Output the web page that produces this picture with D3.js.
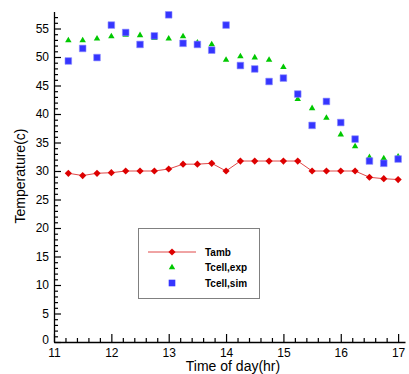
<!DOCTYPE html>
<html lang="en">
<head>
<meta charset="UTF-8">
<title>Temperature</title>
<script src="https://cdnjs.cloudflare.com/ajax/libs/d3/7.8.4/d3.min.js"></script>
<style>
  body { margin: 0; background: #fff; }
  svg text { font-family: "Liberation Sans", Arial, sans-serif; }
</style>
</head>
<body>
<div class="visHolder"></div>
<script>
// time of day (hr)
const hours = [11.25, 11.5, 11.75, 12, 12.25, 12.5, 12.75, 13, 13.25, 13.5, 13.75, 14,
               14.25, 14.5, 14.75, 15, 15.25, 15.5, 15.75, 16, 16.25, 16.5, 16.75, 17];
const tamb = [29.6, 29.2, 29.6, 29.7, 30.0, 30.0, 30.0, 30.35, 31.2, 31.2, 31.35, 30.0,
              31.75, 31.75, 31.75, 31.75, 31.75, 30.0, 30.0, 30.0, 30.0, 28.9, 28.65, 28.5];
const tcellExp = [52.9, 52.9, 53.2, 53.6, 53.9, 53.8, 53.3, 53.2, 53.6, 52.5, 52.2, 49.5,
                  50.1, 49.9, 49.5, 48.2, 42.6, 41.0, 39.3, 36.4, 34.3, 32.4, 32.2, 32.5];
const tcellSim = [49.3, 51.5, 49.9, 55.6, 54.3, 52.2, 53.7, 57.4, 52.4, 52.2, 51.2, 55.6,
                  48.5, 47.9, 45.7, 46.3, 43.5, 38.0, 42.2, 38.5, 35.6, 31.75, 31.35, 32.1];
const xTicks = [11, 12, 13, 14, 15, 16, 17];
const yTicks = [0, 5, 10, 15, 20, 25, 30, 35, 40, 45, 50, 55];

const w = 409, h = 374;
const svg = d3.select(".visHolder").append("svg")
  .attr("width", w).attr("height", h);

const xScale = d3.scaleLinear().domain([11, 17.12]).range([54, 405]);
const yScale = d3.scaleLinear().domain([0, 58]).range([342, 11.4]);

// minor ticks
const xMinor = d3.range(11, 17.01, 0.2).filter(v => Math.abs(v - Math.round(v)) > 0.01);
const yMinor = d3.range(0, 58, 1).filter(v => v % 5 !== 0);

svg.append("g")
  .attr("transform", "translate(0,342)")
  .call(d3.axisBottom(xScale).tickValues(xMinor).tickSize(-4).tickSizeOuter(0).tickFormat(""))
  .call(g => g.select(".domain").remove());
svg.append("g")
  .attr("transform", "translate(54,0)")
  .call(d3.axisLeft(yScale).tickValues(yMinor).tickSize(-4).tickSizeOuter(0).tickFormat(""))
  .call(g => g.select(".domain").remove());

const xAxis = svg.append("g")
  .attr("transform", "translate(0,342)")
  .call(d3.axisBottom(xScale).tickValues(xTicks).tickSize(-8).tickSizeOuter(0)
    .tickPadding(6).tickFormat(d3.format("d")));
const yAxis = svg.append("g")
  .attr("transform", "translate(54,0)")
  .call(d3.axisLeft(yScale).tickValues(yTicks).tickSize(-7).tickSizeOuter(0)
    .tickPadding(5).tickFormat(d3.format("d")));

[xAxis, yAxis].forEach(g => {
  g.selectAll("text").attr("font-size", 12).attr("fill", "#000")
    .style("font-family", "'Liberation Sans', Arial, sans-serif");
  g.selectAll("line").attr("stroke", "#000");
  g.select(".domain").attr("stroke", "#000").attr("stroke-width", 1.3);
});
svg.selectAll("g line").attr("stroke-width", 1.2);
// the 0 label sits a little high, clear of the 11 below it
yAxis.selectAll(".tick text").filter(d => d === 0).attr("dy", "0.1em");

// axis titles
svg.append("text")
  .attr("x", 233).attr("y", 371)
  .attr("text-anchor", "middle").attr("font-size", 14)
  .text("Time of day(hr)");
svg.append("text")
  .attr("transform", "translate(25,176) rotate(-90)")
  .attr("text-anchor", "middle").attr("font-size", 14)
  .text("Temperature(c)");

const pts = (vals) => hours.map((t, i) => [t, vals[i]]);

// Tamb line
svg.append("path")
  .datum(pts(tamb))
  .attr("fill", "none").attr("stroke", "#e04848").attr("stroke-width", 1)
  .attr("d", d3.line().x(d => xScale(d[0])).y(d => yScale(d[1])));

const diamond = d3.symbol().type(d3.symbolSquare).size(26);
const triangle = d3.symbol().type(d3.symbolTriangle).size(18);
const square = d3.symbol().type(d3.symbolSquare).size(44);

svg.append("g").selectAll("path")
  .data(pts(tamb)).enter().append("path")
  .attr("d", diamond)
  .attr("transform", d => `translate(${xScale(d[0])},${yScale(d[1])}) rotate(45)`)
  .attr("fill", "#dd0000");

svg.append("g").selectAll("path")
  .data(pts(tcellExp)).enter().append("path")
  .attr("d", triangle)
  .attr("transform", d => `translate(${xScale(d[0])},${yScale(d[1])})`)
  .attr("fill", "#00c800");

svg.append("g").selectAll("path")
  .data(pts(tcellSim)).enter().append("path")
  .attr("d", square)
  .attr("transform", d => `translate(${xScale(d[0])},${yScale(d[1])})`)
  .attr("fill", "#3535ff").attr("stroke", "#8c8cff").attr("stroke-width", 0.6);

// legend
const legend = svg.append("g");
legend.append("rect")
  .attr("x", 138.5).attr("y", 228.5).attr("width", 121).attr("height", 70)
  .attr("fill", "#fff").attr("stroke", "#808080").attr("stroke-width", 1);
const items = [
  { name: "Tamb", sym: diamond, color: "#dd0000", line: true, rot: 45 },
  { name: "Tcell,exp", sym: triangle, color: "#00c800", line: false, rot: 0 },
  { name: "Tcell,sim", sym: square, color: "#3535ff", line: false, rot: 0 }
];
items.forEach((it, i) => {
  const y = 252 + i * 15.5;
  if (it.line) {
    legend.append("line").attr("x1", 148).attr("x2", 196).attr("y1", y).attr("y2", y)
      .attr("stroke", "#e04848").attr("stroke-width", 1);
  }
  legend.append("path").attr("d", it.sym)
    .attr("transform", `translate(172,${y}) rotate(${it.rot})`)
    .attr("fill", it.color);
  legend.append("text")
    .attr("x", 205).attr("y", y + 3.5)
    .attr("font-size", 10).attr("font-weight", "bold")
    .text(it.name);
});
</script>
</body>
</html>
